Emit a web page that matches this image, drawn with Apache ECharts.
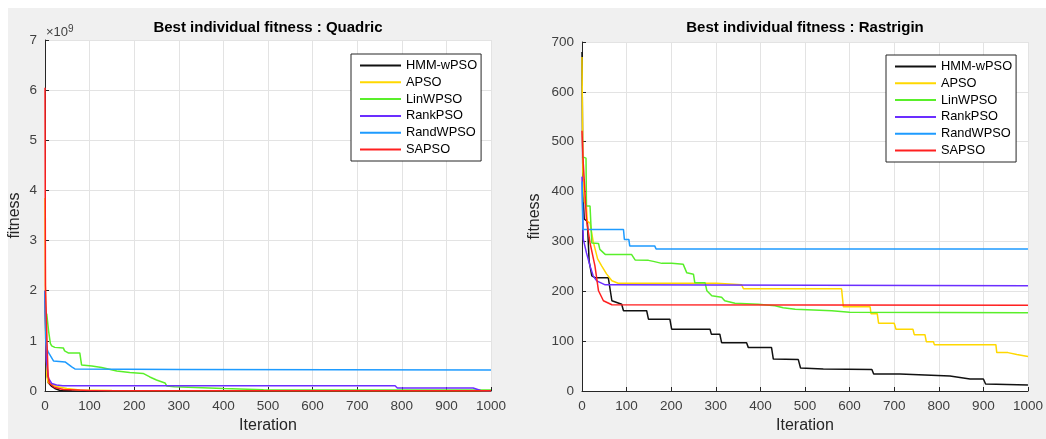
<!DOCTYPE html>
<html>
<head>
<meta charset="utf-8">
<script src="https://cdn.jsdelivr.net/npm/echarts@6/dist/echarts.min.js"></script>
<style>
  body { margin: 0; background: #fff; }
  #wrap { position: relative; width: 1046px; height: 439px; background: #fff; }
  #panel { position: absolute; left: 8px; top: 8px; right: 0; bottom: 0; background: #f0f0f0; }
  #main { position: absolute; left: 0; top: 0; width: 1046px; height: 439px; }
</style>
</head>
<body>
<div id="wrap">
  <div id="panel"></div>
  <div id="main"></div>
</div>
<script>
// series names
var names = ["HMM-wPSO", "APSO", "LinWPSO", "RankPSO", "RandWPSO", "SAPSO"];
var colors = ["#111111", "#ffd800", "#59ef2a", "#6b2eff", "#1e9bff", "#ff2020"];

// Quadric, values in units of 1e9, [iteration, fitness]
var quadHmm = [[0,2.0],[2,0.8],[4,0.44],[7,0.17],[15,0.09],[22,0.05],[34,0.01],[60,0.004],[1000,0.002]];
var quadApso = [[0,3.85],[1,1.9],[4,0.3],[7,0.17],[26,0.09],[49,0.05],[78,0.02],[150,0.008],[1000,0.004]];
var quadLin = [[0,1.6],[4,1.53],[8,1.2],[12,0.95],[15,0.9],[22,0.87],[41,0.86],[44,0.8],[52,0.76],[78,0.76],[82,0.52],
  [105,0.5],[127,0.47],[161,0.4],[190,0.37],[220,0.35],[235,0.28],[250,0.22],[269,0.16],[273,0.1],[290,0.085],
  [400,0.05],[490,0.025],[1000,0.02]];
var quadRank = [[0,2.0],[3,0.6],[8,0.25],[15,0.15],[26,0.12],[40,0.105],[785,0.105],[790,0.06],[960,0.06],[977,0.01],[1000,0.005]];
var quadRand = [[0,2.0],[2,1.0],[4,0.85],[7,0.78],[19,0.6],[45,0.58],[60,0.48],[67,0.44],[300,0.43],[1000,0.42]];
var quadSa = [[0,6.05],[1,2.1],[5,0.83],[7,0.3],[10,0.15],[22,0.07],[41,0.03],[100,0.01],[200,0.005],[1000,0.003]];

// Rastrigin, [iteration, fitness]
var rasHmm = [[0,680],[2,400],[5,345],[12,340],[16,260],[22,231],[30,227],[59,227],[63,224],[67,181],[89,174],[93,161],
  [145,161],[149,144],[197,144],[201,124],[287,124],[290,114],[309,114],[313,97],[369,97],[373,87],[425,87],[429,64],
  [485,63],[490,46],[541,44],[650,43],[654,34],[713,34],[716,31],[825,30],[870,24],[900,24],[905,14],[1000,12]];
var rasApso = [[0,670],[2,440],[5,380],[10,371],[12,340],[18,337],[25,300],[35,265],[44,251],[55,235],[67,221],[81,216],
  [302,216],[305,213],[358,213],[362,205],[582,205],[586,169],[646,169],[648,155],[662,155],[665,136],[700,136],
  [704,124],[742,124],[745,113],[769,113],[772,99],[788,99],[790,93],[928,93],[930,77],[955,77],[957,73],[975,73],
  [977,69],[1000,69]];
var rasLin = [[0,470],[3,467],[9,467],[10,371],[18,371],[22,297],[37,296],[40,284],[52,274],[111,274],[119,263],[149,262],
  [160,260],[179,256],[201,256],[204,254],[227,254],[235,237],[250,234],[253,217],[276,217],[280,201],[291,191],
  [313,188],[320,181],[343,176],[395,174],[433,171],[451,167],[478,164],[560,161],[600,158],[1000,157]];
var rasRank = [[0,430],[3,304],[10,277],[18,251],[25,231],[33,221],[52,213],[1000,211]];
var rasRand = [[0,420],[2,324],[93,324],[95,304],[105,304],[107,291],[163,291],[166,285],[1000,285]];
var rasSa = [[0,522],[2,470],[5,424],[8,420],[10,344],[18,297],[29,251],[37,201],[48,181],[67,173],[1000,172]];

var quadData = [quadHmm, quadApso, quadLin, quadRank, quadRand, quadSa];
var rasData = [rasHmm, rasApso, rasLin, rasRank, rasRand, rasSa];

var font = "Liberation Sans, Arial, sans-serif";
var axisColor = "#262626";

function xAxisOf(idx) {
  return {
    gridIndex: idx, type: "value", min: 0, max: 1000, interval: 100,
    name: "Iteration", nameLocation: "middle", nameGap: 27,
    nameTextStyle: { fontSize: 16, color: axisColor, fontFamily: font },
    axisLine: { show: true, lineStyle: { color: axisColor, width: 1 } },
    axisTick: { show: true, inside: true, length: 4, lineStyle: { color: axisColor } },
    axisLabel: { fontSize: 13.5, color: "#404040", margin: 8, fontFamily: font,
      formatter: function(v) { return String(v); } },
    splitLine: { show: true, lineStyle: { color: "#e3e3e3", width: 1 } }
  };
}
function yAxisOf(idx, max, interval, gap) {
  return {
    gridIndex: idx, type: "value", min: 0, max: max, interval: interval,
    name: "fitness", nameLocation: "middle", nameGap: gap,
    nameTextStyle: { fontSize: 16, color: axisColor, fontFamily: font },
    axisLine: { show: true, lineStyle: { color: axisColor, width: 1 } },
    axisTick: { show: true, inside: true, length: 4, lineStyle: { color: axisColor } },
    axisLabel: { fontSize: 13.5, color: "#404040", margin: 8, fontFamily: font,
      formatter: function(v) { return String(v); } },
    splitLine: { show: true, lineStyle: { color: "#e3e3e3", width: 1 } }
  };
}
function legendOf(left, top) {
  return {
    data: names, orient: "vertical", left: left, top: top, icon: "rect",
    backgroundColor: "#fff", borderColor: axisColor, borderWidth: 1, borderRadius: 0,
    padding: [5, 4, 5, 9], itemGap: 3.8, itemWidth: 41, itemHeight: 2,
    textStyle: { fontSize: 12.8, color: "#000", fontFamily: font }
  };
}

var series = [];
for (let i = 0; i < names.length; i++) {
  series.push({
    name: names[i], type: "line", xAxisIndex: 0, yAxisIndex: 0, data: quadData[i],
    symbol: "none", animation: false, lineStyle: { color: colors[i], width: 1.5 }, itemStyle: { color: colors[i] }
  });
}
for (let i = 0; i < names.length; i++) {
  series.push({
    name: names[i], type: "line", xAxisIndex: 1, yAxisIndex: 1, data: rasData[i],
    symbol: "none", animation: false, lineStyle: { color: colors[i], width: 1.5 }, itemStyle: { color: colors[i] }
  });
}

var myChart = echarts.init(document.getElementById("main"));
var option = {
  backgroundColor: "transparent",
  animation: false,
  grid: [
    { left: 45, right: 555, top: 40, bottom: 47, show: true, backgroundColor: "#fff", borderWidth: 0 },
    { left: 582, right: 18, top: 42, bottom: 47, show: true, backgroundColor: "#fff", borderWidth: 0 }
  ],
  xAxis: [xAxisOf(0), xAxisOf(1)],
  yAxis: [yAxisOf(0, 7, 1, 22), yAxisOf(1, 700, 100, 39)],
  legend: [legendOf(351, 54), legendOf(886, 55)],
  graphic: [
    { type: "text", x: 268, y: 28, style: { text: "Best individual fitness : Quadric", fill: "#000",
      font: "bold 15px " + font, textAlign: "center", textVerticalAlign: "middle" } },
    { type: "text", x: 805, y: 28, style: { text: "Best individual fitness : Rastrigin", fill: "#000",
      font: "bold 15px " + font, textAlign: "center", textVerticalAlign: "middle" } },
    { type: "text", x: 46, y: 24, style: { text: "{a|×10}{s|9}", fill: "#404040",
      rich: { a: { fontSize: 13, fontFamily: font, color: "#404040" },
              s: { fontSize: 10, fontFamily: font, color: "#404040", padding: [0, 0, 7, 0] } } } }
  ],
  series: series
};
myChart.setOption(option);
</script>
</body>
</html>
